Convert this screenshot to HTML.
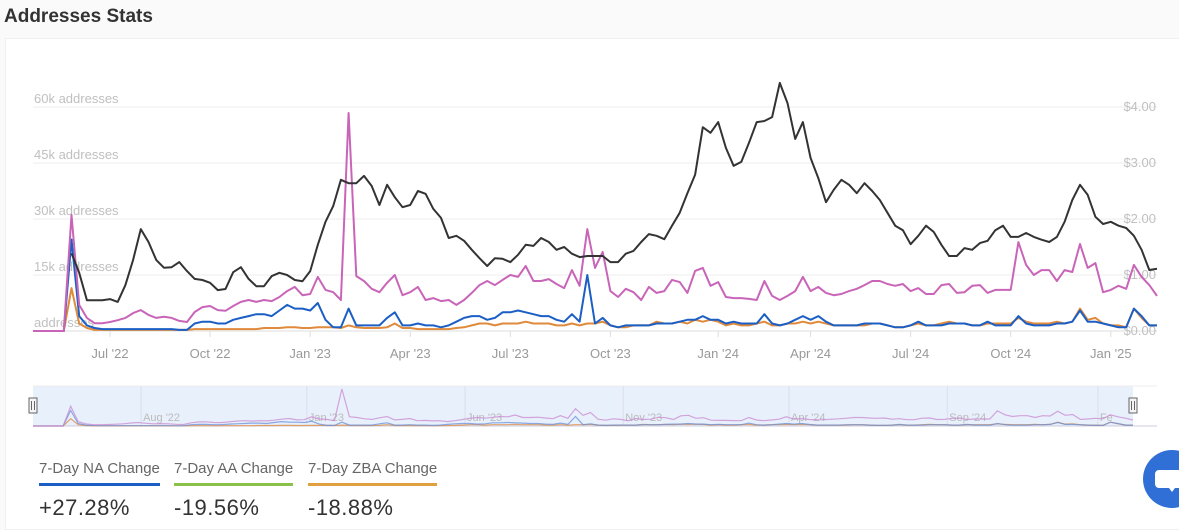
<!DOCTYPE html>
<html><head><meta charset="utf-8"><style>
body{margin:0;width:1179px;height:523px;background:#fafafa;font-family:"Liberation Sans",sans-serif;overflow:hidden;position:relative}
#title{position:absolute;left:4px;top:6px;font-size:19px;font-weight:bold;color:#333}
#card{position:absolute;left:5px;top:38px;width:1174px;height:490px;background:#fff;border:1px solid #f0f0f0}
.stat{position:absolute;top:460px}
.stat .lab{font-size:15px;color:#666;padding-bottom:6px;border-bottom:3px solid}
.stat .val{font-size:22px;color:#333;margin-top:9px;letter-spacing:0.5px}
#chat{position:absolute;left:1143px;top:450px;width:58px;height:58px;border-radius:50%;background:#2f6fd6}
</style></head><body>
<div id="title">Addresses Stats</div>
<div id="card"></div>
<svg id="chart" width="1179" height="523" style="position:absolute;left:0;top:0"></svg>
<div class="stat" style="left:39px"><div class="lab" style="border-color:#1b5fc5">7-Day NA Change</div><div class="val">+27.28%</div></div>
<div class="stat" style="left:174px"><div class="lab" style="border-color:#8bc04a">7-Day AA Change</div><div class="val">-19.56%</div></div>
<div class="stat" style="left:308px"><div class="lab" style="border-color:#e0a040">7-Day ZBA Change</div><div class="val">-18.88%</div></div>
<div id="chat"><svg width="58" height="58"><path d="M16 20 h26 a4 4 0 0 1 4 4 v10 a4 4 0 0 1 -4 4 h-10 l-3 4 l-3 -4 h-10 a4 4 0 0 1 -4 -4 v-10 a4 4 0 0 1 4 -4z" fill="#fff"/></svg></div>
<script>
const leadZeros=[0,0,0,0,0];
const price=[1.39,1.04,.55,.55,.55,.57,.52,.82,1.27,1.82,
1.59,1.27,1.13,1.14,1.23,1.07,.93,.91,.86,.73,
.75,1.05,1.14,.93,.80,.80,.98,1.04,1.0,.91,
.89,1.07,1.54,1.95,2.23,2.70,2.64,2.64,2.77,2.59,
2.25,2.61,2.39,2.21,2.25,2.50,2.45,2.18,2.02,1.66,
1.70,1.61,1.45,1.30,1.16,1.30,1.29,1.23,1.36,1.54,
1.52,1.66,1.59,1.45,1.50,1.38,1.32,1.34,1.34,1.34,
1.23,1.23,1.38,1.43,1.59,1.73,1.70,1.64,1.88,2.11,
2.46,2.79,3.64,3.54,3.73,3.27,2.95,3.02,3.36,3.73,
3.75,3.82,4.43,4.07,3.43,3.73,3.09,2.73,2.30,2.52,
2.70,2.61,2.46,2.64,2.50,2.34,2.11,1.88,1.80,1.55,
1.70,1.88,1.77,1.54,1.34,1.34,1.48,1.45,1.57,1.61,
1.80,1.88,1.68,1.68,1.75,1.68,1.63,1.59,1.68,1.95,
2.34,2.61,2.43,2.04,1.91,1.95,1.88,1.84,1.70,1.45,
1.09,1.11];
const activeK=[31.1,7.0,3.5,2.1,2.1,2.4,2.9,3.5,4.8,5.6,
4.3,3.5,3.8,3.5,2.7,2.4,5.1,6.4,6.7,5.6,
5.4,6.7,7.8,8.3,7.8,8.3,8.0,9.1,10.7,11.8,
9.6,9.9,14.5,11.0,10.4,8.3,58.4,14.7,13.4,11.3,
10.4,12.9,15.0,9.6,10.4,11.8,8.3,8.8,8.0,8.3,
7.0,8.3,10.2,12.3,13.4,12.3,13.7,15.0,14.5,17.4,
13.4,13.4,13.9,12.6,11.5,16.3,12.1,27.3,16.9,21.2,
10.7,9.1,11.3,10.4,8.3,11.8,10.2,10.7,13.7,13.1,
10.2,16.1,16.9,12.1,13.1,9.1,8.8,8.8,8.6,8.3,
13.4,9.4,8.3,9.4,10.7,14.5,10.7,11.8,10.2,9.6,
9.9,10.7,11.3,12.3,13.4,13.4,12.6,12.1,12.6,10.7,
11.5,9.9,9.9,12.3,12.6,10.2,10.4,12.1,12.3,10.2,
11.0,11.0,11.0,23.8,17.7,15.0,16.3,16.3,13.4,16.3,
15.8,23.3,16.9,18.2,10.4,11.0,12.1,11.3,17.7,14.5,
12.3,9.4];
const newK=[24.5,4,1.5,0.8,0.5,0.5,0.5,0.5,0.5,0.5,
0.5,0.5,0.5,0.5,0.3,0.3,2,2.5,2.5,2,
2,3,3.5,4,4.5,4.5,4,5.5,7,6,
6,5.5,7.5,3,1,1,6,1.5,1.5,1.5,
1.5,3.5,5,1.5,1.5,2,1.5,1.5,1,1.5,
2.5,3.5,4,4,3,3.5,5,5,5.5,5,
4.5,4,4,3,2.5,4.5,2.5,15,2,3.5,
1.5,1,1.5,1.5,1.5,1.5,2,2,2,2.5,
3,3,4,3,3,2,2.5,2,2,2,
4.5,2,1.5,2,3,4,3,4,2.5,1.5,
1.5,1.5,1.5,2,2,2,1.5,1,1,1.5,
2.5,1.5,1.5,1.5,2,2,2,1.5,1.5,2.5,
1.5,1.5,1.5,4,2,1.5,1.5,1.5,2,2,
2.5,5.5,2.5,2.5,2,1.5,1,1,6,4,
1.5,1.5];
const zeroK=[11.5,2,0.8,0.3,0.3,0.3,0.3,0.3,0.3,0.3,
0.3,0.3,0.3,0.3,0.3,0.3,0.5,0.5,0.5,0.5,
0.5,0.5,0.5,0.5,0.5,0.8,0.8,0.8,1,1,
0.8,0.8,1,1,1,0.8,1.5,1,0.8,0.8,
0.8,1,2,0.8,0.8,0.5,0.5,0.5,0.5,0.5,
0.8,1,1.5,2,2,1.5,2,2,2,2.5,
2,2,2,1.5,1.5,2,1.5,2,2,2.5,
1.5,1,1,1.5,1.5,1.5,2.5,2,2,2.5,
2,3,2.5,3,2.5,1.5,2,1.5,1.5,2,
2.5,1.5,1.5,2,2,2.5,2,2.5,2,1.5,
1.5,1.5,1.5,1.5,2,2,1.5,1,1,1.5,
2,1.5,1.5,2,2.5,2,2,1.5,1.5,2,
2,2,2,3.5,2.5,2,2,2,2.5,2,
2.5,6,3,3.5,2,1.5,1.5,1,6,3.5,
1.5,1.5];
const leftTicks=[0,15,30,45,60];
const leftLabels=["addresses","15k addresses","30k addresses","45k addresses","60k addresses"];
const rightTicks=[0,1,2,3,4];
const rightLabels=["$0.00","$1.00","$2.00","$3.00","$4.00"];
const xTickIdx=[10,23,36,49,62,75,89,101,114,127,140];
const xTickLabels=["Jul '22","Oct '22","Jan '23","Apr '23","Jul '23","Oct '23","Jan '24","Apr '24","Jul '24","Oct '24","Jan '25"];
const navTickIdx=[17,39,60,81,103,124,144];
const navTickLabels=["Aug '22","Jan '23","Jun '23","Nov '23","Apr '24","Sep '24","Fe"];

const svg=document.getElementById('chart');const NS='http://www.w3.org/2000/svg';
function el(t,a,p){const e=document.createElementNS(NS,t);for(const k in a)e.setAttribute(k,a[k]);(p||svg).appendChild(e);return e;}
const P=[...leadZeros.map(()=>null),...price],A=[...leadZeros,...activeK],N=[...leadZeros,...newK],Z=[...leadZeros,...zeroK];
const n=A.length,x0=33,x1=1157,y0=331,y1=107;
const xs=i=>x0+i*(x1-x0)/(n-1);
const yL=v=>y0-v/60*(y0-y1);
const yR=v=>y0-v/4*(y0-y1);
leftTicks.forEach((t,i)=>{
 const g=el('line',{x1:x0,x2:x1,y1:yL(t),y2:yL(t),stroke:i?'#eee':'#ddd'});
 
 const tx=el('text',{x:34,y:yL(t)-4,fill:'#c0c0c0','font-size':13});tx.textContent=leftLabels[i];
 
});
rightTicks.forEach((t,i)=>{
 const tx=el('text',{x:1156,y:yR(t)+4,fill:'#c0c0c0','font-size':13,'text-anchor':'end'});tx.textContent=rightLabels[i];
 
});
xTickIdx.forEach((d,i)=>{
 el('line',{x1:xs(d),x2:xs(d),y1:y0,y2:y0+6,stroke:'#ddd'});
 const tx=el('text',{x:xs(d),y:358,fill:'#999','font-size':13,'text-anchor':'middle'});tx.textContent=xTickLabels[i];
 
});
function line(arr,fy,col,w,name,g){let d='',started=false;arr.forEach((v,i)=>{if(v===null)return;d+=(started?'L':'M')+xs(i).toFixed(1)+' '+fy(v).toFixed(1);started=true;});
 const p=el('path',{d:d,fill:'none',stroke:col,'stroke-width':w,'stroke-linejoin':'round'},g);
 return p;}
line(Z,yL,'#e08a3c',2,'zero-balance-line');
line(N,yL,'#1b5fc5',2,'new-addresses-line');
line(A,yL,'#c965b8',2,'active-addresses-line');
line(P,yR,'#333',2,'price-line');
// navigator
const ny0=426,ny1=386,nx1=1133;
const nav=el('rect',{x:x0,y:ny1,width:nx1-x0,height:ny0-ny1,fill:'#e8f0fc'});

el('line',{x1:x0,x2:1157,y1:ny0,y2:ny0,stroke:'#ccd'});
el('line',{x1:x0,x2:1157,y1:ny1,y2:ny1,stroke:'#eee'});
const nxs=i=>x0+i*(nx1-x0)/(n-1);
navTickIdx.forEach((d,i)=>{
 el('line',{x1:nxs(d)-20,x2:nxs(d)-20,y1:ny1,y2:ny0,stroke:'#dde'});
 const tx=el('text',{x:nxs(d)-18,y:421,fill:'#bbb','font-size':11});tx.textContent=navTickLabels[i];
 
});
const ny=v=>ny0-v/60*38;
function nline(arr,col,name){const d=arr.map((v,i)=>(i?'L':'M')+nxs(i).toFixed(1)+' '+ny(v).toFixed(1)).join('');
 const p=el('path',{d:d,fill:'none',stroke:col,'stroke-width':1.2,opacity:.75});
 }
nline(Z,'#e08a3c','navigator-zero-line');nline(N,'#6a8fd8','navigator-new-line');nline(A,'#c98ad0','navigator-active-line');
[x0,nx1].forEach((hx,i)=>{
 const h=el('rect',{x:hx-4,y:398,width:8,height:15,fill:'#f4f4f4',stroke:'#666'});
 
 el('line',{x1:hx-1.5,x2:hx-1.5,y1:401,y2:410,stroke:'#666'});el('line',{x1:hx+1.5,x2:hx+1.5,y1:401,y2:410,stroke:'#666'});
});
</script>
</body></html>
